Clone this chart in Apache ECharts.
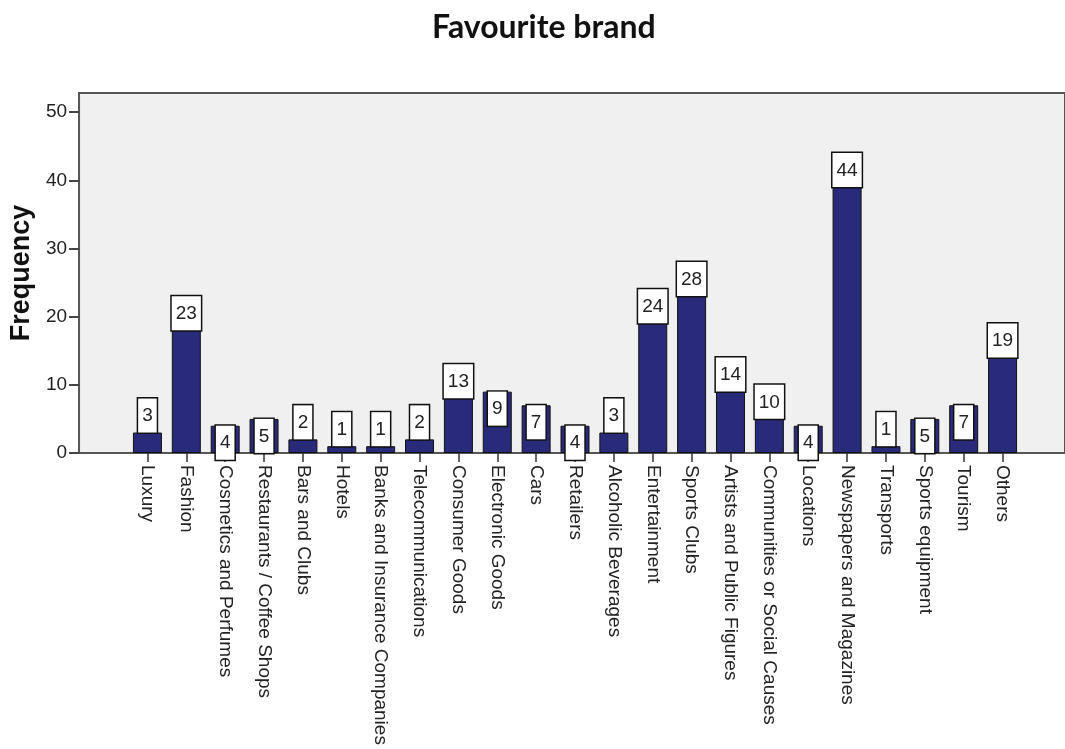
<!DOCTYPE html>
<html>
<head>
<meta charset="utf-8">
<script src="https://cdn.jsdelivr.net/npm/echarts@6/dist/echarts.min.js"></script>
<style>
  html, body { margin: 0; padding: 0; background: #fff; }
  #chart { width: 1065px; height: 749px; }
</style>
</head>
<body>
<div id="chart"></div>
<script>
// data
var categories = [
  'Luxury', 'Fashion', 'Cosmetics and Perfumes', 'Restaurants / Coffee Shops',
  'Bars and Clubs', 'Hotels', 'Banks and Insurance Companies', 'Telecommunications',
  'Consumer Goods', 'Electronic Goods', 'Cars', 'Retailers', 'Alcoholic Beverages',
  'Entertainment', 'Sports Clubs', 'Artists and Public Figures',
  'Communities or Social Causes', 'Locations', 'Newspapers and Magazines',
  'Transports', 'Sports equipment', 'Tourism', 'Others'
];
var frequency = [3, 23, 4, 5, 2, 1, 1, 2, 13, 9, 7, 4, 3, 24, 28, 14, 10, 4, 44, 1, 5, 7, 19];
var yTicks = [0, 10, 20, 30, 40, 50];

var chart = echarts.init(document.getElementById('chart'));

var yMax = 52.8;
var txt = '#222';
var font = 'Liberation Sans, Arial, sans-serif';

// small bars get their label box above the bar, the rest inside the top
var barData = frequency.map(function (v) {
  return {
    value: v,
    label: { position: v >= 4 ? 'insideTop' : 'top' }
  };
});

var option = {
  backgroundColor: '#fff',
  animation: false,
  title: {
    text: 'Favourite brand',
    left: 427,
    top: 7,
    textStyle: { fontFamily: 'Lato, sans-serif', fontSize: 32, fontWeight: 'bold', color: '#111' }
  },
  grid: [
    // outer frame with the grey plot area
    { left: 77, right: -5, top: 93, bottom: 296, show: true,
      backgroundColor: '#f0f0f0', borderColor: '#555', borderWidth: 2 },
    // inner area holding the categories
    { left: 128, right: 43, top: 93, bottom: 296 }
  ],
  xAxis: [
    { gridIndex: 0, type: 'value', show: false },
    {
      gridIndex: 1,
      type: 'category',
      data: categories,
      axisLine: { show: false },
      axisTick: { show: true, alignWithLabel: true, length: 9,
        lineStyle: { color: '#333', width: 1.5 } },
      axisLabel: { interval: 0, rotate: -90, margin: 12, fontSize: 19,
        fontFamily: font, color: txt }
    }
  ],
  yAxis: [
    {
      gridIndex: 0,
      type: 'value',
      min: 0,
      max: yMax,
      name: 'Frequency',
      nameLocation: 'middle',
      nameGap: 44,
      nameTextStyle: { fontSize: 27, fontWeight: 'bold', fontFamily: font, color: '#111' },
      axisLine: { show: false },
      axisTick: { show: true, length: 10, customValues: yTicks,
        lineStyle: { color: '#444', width: 2 } },
      axisLabel: { margin: 12, fontSize: 19, fontFamily: font, color: txt,
        customValues: yTicks },
      splitLine: { show: false }
    },
    { gridIndex: 1, type: 'value', min: 0, max: yMax, show: false }
  ],
  series: [{
    type: 'bar',
    xAxisIndex: 1,
    yAxisIndex: 1,
    data: barData,
    barWidth: 29,
    itemStyle: { color: '#2a2a7a', borderColor: '#111', borderWidth: 1 },
    label: {
      show: true,
      distance: 0,
      formatter: '{c}',
      fontSize: 19,
      fontFamily: font,
      color: txt,
      backgroundColor: '#fff',
      borderColor: '#111',
      borderWidth: 1.5,
      padding: [8, 4, 7, 4]
    }
  }]
};

chart.setOption(option);
</script>
</body>
</html>
